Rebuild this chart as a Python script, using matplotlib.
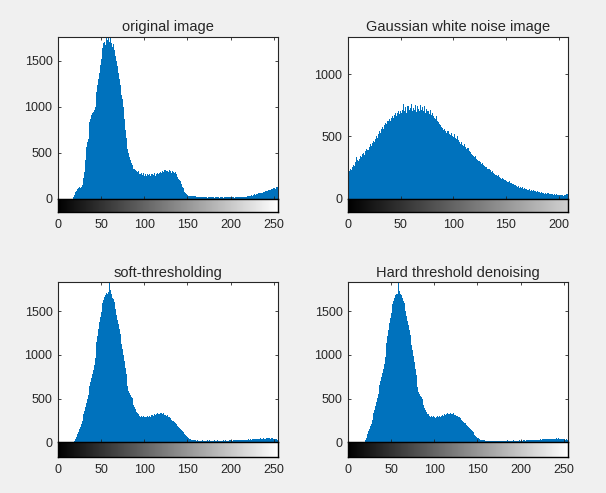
import numpy as np
import matplotlib
matplotlib.use('Agg')
import matplotlib.pyplot as plt

plt.rcParams['font.family'] = ['Liberation Sans', 'DejaVu Sans']

# histogram counts (one value per grey level)
orig_counts = (
    [0] * 18
    + [15, 40, 70, 85, 95, 105, 110, 120, 112, 130, 145, 170]
    + [220, 290, 420, 560, 610, 650, 770, 830, 870, 905]
    + [925, 945, 965, 1000, 1070, 1160, 1230, 1300, 1370, 1450]
    + [1520, 1580, 1640, 1690, 1700, 1670, 1750, 1720, 1680, 1760]
    + [1700, 1745, 1690, 1650, 1680, 1620, 1600, 1550, 1500, 1440]
    + [1370, 1300, 1240, 1190, 1130, 1080, 990, 870, 750, 660]
    + [590, 540, 495, 455, 420, 385, 365, 345, 325, 320]
    + [305, 295, 285, 295, 265, 285, 262, 278, 255, 272]
    + [250, 268, 258, 245, 270, 255, 262, 240, 268, 250]
    + [265, 258, 272, 250, 268, 280, 262, 285, 275, 292]
    + [280, 300, 285, 305, 290, 310, 295, 300, 285, 310]
    + [295, 305, 280, 300, 290, 275, 285, 265, 255, 235]
    + [215, 200, 185, 155, 130, 110, 90, 70, 55, 45]
    + [35, 30, 28, 30, 25, 32, 26, 30, 22, 25]
    + [18, 15, 20, 14, 18, 12, 16, 15, 12, 18]
    + [14, 12, 16, 10, 15, 12, 14, 11, 15, 12]
    + [13, 10, 14, 12, 15, 11, 13, 10, 14, 12]
    + [12, 14, 10, 13, 11, 15, 12, 10, 14, 12]
    + [13, 11, 15, 12, 14, 10, 13, 15, 12, 14]
    + [15, 12, 16, 14, 18, 15, 17, 20, 18, 22]
    + [25, 22, 28, 30, 35, 32, 40, 38, 45, 42]
    + [50, 48, 55, 52, 60, 58, 65, 62, 70, 68]
    + [75, 80, 78, 85, 90, 88, 95, 100, 98, 105]
    + [110, 115, 108, 120, 125, 130]
)

noise_counts = (
    [1300, 220, 235, 225, 250, 270, 260, 290, 330, 310]
    + [300, 320, 345, 330, 355, 365, 350, 380, 400, 390]
    + [410, 435, 420, 445, 465, 450, 475, 500, 490, 515]
    + [540, 525, 555, 575, 560, 590, 610, 595, 620, 640]
    + [625, 650, 665, 645, 670, 685, 665, 690, 700, 680]
    + [705, 690, 715, 760, 700, 735, 690, 745, 710, 725]
    + [760, 700, 730, 715, 750, 695, 740, 720, 705, 755]
    + [710, 735, 700, 745, 690, 720, 705, 680, 715, 670]
    + [690, 665, 650, 640, 660, 625, 615, 600, 590, 575]
    + [565, 550, 560, 540, 530, 545, 520, 510, 525, 505]
    + [495, 520, 490, 480, 500, 470, 455, 440, 450, 430]
    + [420, 435, 410, 400, 405, 385, 375, 360, 350, 345]
    + [335, 340, 320, 310, 300, 305, 290, 280, 285, 270]
    + [260, 250, 255, 240, 235, 225, 215, 220, 205, 195]
    + [190, 185, 178, 185, 170, 165, 160, 168, 155, 150]
    + [145, 140, 135, 138, 128, 125, 120, 115, 110, 108]
    + [104, 96, 100, 88, 94, 82, 90, 78, 84, 76]
    + [80, 68, 74, 64, 70, 60, 66, 58, 62, 54]
    + [58, 50, 54, 46, 52, 44, 48, 40, 46, 38]
    + [42, 36, 40, 34, 38, 32, 36, 30, 34, 28]
    + [32, 26, 30, 25, 28, 24, 30, 32, 36, 40]
)

soft_counts = (
    [0] * 19 + [10]
    + [38, 60, 80, 94, 120, 150, 180, 207, 240, 280]
    + [320, 357, 400, 450, 500, 545, 590, 640, 690, 733]
    + [780, 830, 883, 960, 1071, 1150, 1220, 1300, 1372, 1430]
    + [1490, 1540, 1598, 1630, 1660, 1690, 1710, 1700, 1720, 1715]
    + [1830, 1740, 1700, 1654, 1640, 1600, 1560, 1522, 1460, 1400]
    + [1350, 1297, 1240, 1180, 1120, 1071, 1000, 930, 846, 780]
    + [700, 640, 583, 560, 540, 520, 507, 470, 430, 400]
    + [376, 350, 330, 320, 305, 310, 295, 300, 290, 305]
    + [295, 285, 300, 290, 305, 295, 300, 290, 310, 300]
    + [315, 305, 320, 310, 325, 335, 320, 340, 325, 335]
    + [330, 320, 335, 315, 325, 310, 300, 310, 290, 295]
    + [280, 270, 260, 245, 240, 230, 220, 205, 200, 185]
    + [175, 165, 150, 140, 130, 118, 105, 90, 78, 68]
    + [58, 50, 42, 38, 35, 32, 30, 28, 25, 22]
    + [20, 18, 22, 18, 20, 16, 19, 22, 18, 20]
    + [17, 20, 18, 22, 19, 17, 21, 18, 20, 19]
    + [18, 21, 19, 17, 20, 22, 18, 20, 19, 21]
    + [20, 18, 22, 19, 21, 20, 18, 22, 20, 23]
    + [21, 24, 20, 22, 25, 23, 21, 24, 26, 22]
    + [25, 27, 24, 28, 26, 30, 27, 29, 32, 28]
    + [30, 33, 31, 35, 32, 36, 34, 38, 35, 37]
    + [40, 36, 42, 38, 41, 44, 39, 43, 46, 41]
    + [45, 42, 48, 44, 50, 46, 43, 47, 42, 45]
    + [40, 38, 35, 38, 30, 45]
)

hard_counts = (
    [0] * 20
    + [25, 48, 70, 95, 125, 150, 185, 215, 250, 290]
    + [330, 370, 415, 460, 505, 550, 600, 650, 700, 745]
    + [790, 840, 890, 970, 1060, 1140, 1215, 1290, 1365, 1425]
    + [1480, 1530, 1585, 1620, 1650, 1680, 1700, 1695, 1710, 1830]
    + [1725, 1700, 1680, 1650, 1620, 1590, 1550, 1505, 1450, 1390]
    + [1340, 1285, 1230, 1170, 1110, 1060, 990, 920, 840, 770]
    + [695, 635, 580, 555, 535, 515, 500, 465, 425, 395]
    + [370, 345, 328, 318, 300, 308, 292, 298, 288, 302]
    + [292, 282, 298, 288, 302, 292, 298, 288, 306, 298]
    + [312, 302, 318, 308, 322, 330, 318, 336, 322, 332]
    + [328, 318, 330, 312, 322, 308, 298, 305, 288, 292]
    + [278, 268, 258, 242, 236, 226, 216, 202, 196, 182]
    + [172, 160, 148, 136, 126, 114, 100, 86, 74, 64]
    + [54, 46, 40, 35, 32, 30, 27, 25, 22, 20]
    + [18, 16, 20, 17, 19, 15, 18, 20, 16, 19]
    + [16, 19, 17, 20, 18, 16, 20, 17, 19, 18]
    + [17, 20, 18, 16, 19, 21, 17, 19, 18, 20]
    + [19, 17, 21, 18, 20, 19, 17, 21, 19, 22]
    + [20, 22, 19, 21, 24, 22, 20, 23, 25, 21]
    + [24, 26, 23, 27, 25, 28, 26, 28, 30, 27]
    + [29, 31, 30, 33, 31, 34, 32, 36, 33, 35]
    + [37, 34, 39, 36, 38, 41, 37, 40, 43, 39]
    + [42, 39, 44, 41, 46, 42, 40, 43, 39, 41]
    + [37, 35, 32, 34, 28, 40]
)

titles = ['original image', 'Gaussian white noise image',
          'soft-thresholding', 'Hard threshold denoising']
all_counts = [orig_counts, noise_counts, soft_counts, hard_counts]
x_max = [255, 209, 255, 255]
x_ticks = [0, 50, 100, 150, 200, 250]
y_ticks = [[0, 500, 1000, 1500], [0, 500, 1000], [0, 500, 1000, 1500], [0, 500, 1000, 1500]]

BLUE = '#0072BD'
DARK = '#262626'

W, H = 606, 493
fig = plt.figure(figsize=(W / 100, H / 100), dpi=100, facecolor='#f0f0f0')

# panel boxes in pixels: (left, hist top, hist bottom, strip bottom)
boxes = [(58, 36.7, 198.5, 212.3), (348, 36.7, 198.5, 212.3),
         (58, 282.3, 442.3, 456.7), (348, 282.3, 442.3, 456.7)]
box_w = 220

for counts, title, xm, yt, (left, top, base, sbot) in zip(all_counts, titles, x_max, y_ticks, boxes):
    counts = np.array(counts, dtype=float)
    bins = np.arange(len(counts))

    ax = fig.add_axes([left / W, 1 - base / H, box_w / W, (base - top) / H])
    ax.bar(bins, counts, width=1.0, color=BLUE, linewidth=0)
    ax.set_xlim(0, xm)
    ax.set_ylim(0, counts.max())
    ax.set_xticks([t for t in x_ticks if t <= xm])
    ax.set_yticks(yt)
    ax.tick_params(direction='in', length=2.5, width=0.6, top=True, right=True,
                   labelbottom=False, labelsize=9, colors=DARK, pad=4)
    for s in ax.spines.values():
        s.set_color(DARK)
        s.set_linewidth(0.8)
    ax.set_title(title, fontsize=10.5, color=DARK, pad=4)

    # grey-level strip under the histogram
    cax = fig.add_axes([left / W, 1 - sbot / H, box_w / W, (sbot - base) / H])
    grad = np.linspace(0, 1, 256)[None, :]
    cax.imshow(grad, cmap='gray', aspect='auto', extent=[-0.5, 255.5, 0, 1],
               interpolation='bilinear')
    cax.set_xlim(0, xm)
    cax.set_ylim(0, 1)
    cax.set_yticks([])
    cax.set_xticks([t for t in x_ticks if t <= xm])
    cax.tick_params(axis='x', direction='in', length=0, labelsize=9, colors=DARK, pad=5)
    for s in cax.spines.values():
        s.set_color('black')
        s.set_linewidth(1.0)

fig.savefig('out.png', dpi=100, facecolor=fig.get_facecolor())
